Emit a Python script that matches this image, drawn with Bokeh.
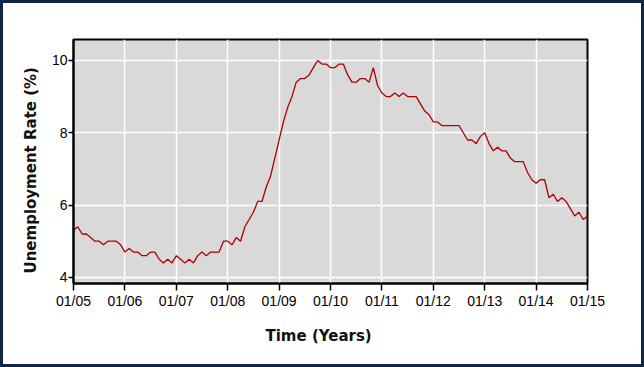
from bokeh.plotting import figure
from bokeh.models import FixedTicker, Title, InlineStyleSheet
from bokeh.embed import file_html
from bokeh.resources import INLINE

# Monthly US unemployment rate (%), Jan 2005 - Jan 2015
rate_2005 = [5.3, 5.4, 5.2, 5.2, 5.1, 5.0, 5.0, 4.9, 5.0, 5.0, 5.0, 4.9]
rate_2006 = [4.7, 4.8, 4.7, 4.7, 4.6, 4.6, 4.7, 4.7, 4.5, 4.4, 4.5, 4.4]
rate_2007 = [4.6, 4.5, 4.4, 4.5, 4.4, 4.6, 4.7, 4.6, 4.7, 4.7, 4.7, 5.0]
rate_2008 = [5.0, 4.9, 5.1, 5.0, 5.4, 5.6, 5.8, 6.1, 6.1, 6.5, 6.8, 7.3]
rate_2009 = [7.8, 8.3, 8.7, 9.0, 9.4, 9.5, 9.5, 9.6, 9.8, 10.0, 9.9, 9.9]
rate_2010 = [9.8, 9.8, 9.9, 9.9, 9.6, 9.4, 9.4, 9.5, 9.5, 9.4, 9.8, 9.3]
rate_2011 = [9.1, 9.0, 9.0, 9.1, 9.0, 9.1, 9.0, 9.0, 9.0, 8.8, 8.6, 8.5]
rate_2012 = [8.3, 8.3, 8.2, 8.2, 8.2, 8.2, 8.2, 8.0, 7.8, 7.8, 7.7, 7.9]
rate_2013 = [8.0, 7.7, 7.5, 7.6, 7.5, 7.5, 7.3, 7.2, 7.2, 7.2, 6.9, 6.7]
rate_2014 = [6.6, 6.7, 6.7, 6.2, 6.3, 6.1, 6.2, 6.1, 5.9, 5.7, 5.8, 5.6]
rate_2015 = [5.7]

years = list(range(2005, 2016))
year_tick_labels = ["01/05", "01/06", "01/07", "01/08", "01/09", "01/10",
                    "01/11", "01/12", "01/13", "01/14", "01/15"]
y_ticks = [4, 6, 8, 10]

series = [rate_2005, rate_2006, rate_2007, rate_2008, rate_2009, rate_2010,
          rate_2011, rate_2012, rate_2013, rate_2014, rate_2015]
xs, ys = [], []
for yr, vals in zip(years, series):
    for m, v in enumerate(vals):
        xs.append(yr + m / 12.0)
        ys.append(v)

p = figure(width=644, height=367, x_range=(2005, 2015), y_range=(3.83, 10.58),
           output_backend="svg", toolbar_location=None,
           min_border_left=73, min_border_right=57, min_border_top=39,
           min_border_bottom=84,
           background_fill_color="#d9d9d9", border_fill_color="white",
           outline_line_color="black", outline_line_width=2)
frame_css = InlineStyleSheet(css="""
:host { position: relative; }
:host::after {
  content: "";
  position: absolute;
  left: 0; top: 0; right: 0; bottom: 0;
  border: 3px solid #0e2545;
  box-sizing: border-box;
  pointer-events: none;
  z-index: 1000;
}
""")
p.stylesheets = [frame_css]

p.line(xs, ys, line_color="#b00000", line_width=1.3)

p.xaxis.ticker = FixedTicker(ticks=years)
p.xaxis.major_label_overrides = {yr: lab for yr, lab in zip(years, year_tick_labels)}
p.yaxis.ticker = FixedTicker(ticks=y_ticks)

for ax in (p.xaxis, p.yaxis):
    ax.axis_line_color = "black"
    ax.axis_line_width = 2
    ax.major_tick_line_color = "black"
    ax.major_tick_line_width = 1.5
    ax.major_tick_in = 0
    ax.minor_tick_line_color = None
    ax.major_label_text_font = "Liberation Sans"
    ax.major_label_text_font_size = "14px"
    ax.major_label_text_color = "black"
p.xaxis.major_tick_out = 7
p.xaxis.major_label_standoff = 2
p.yaxis.major_tick_out = 5
p.yaxis.major_label_standoff = 1

p.xgrid.grid_line_color = "white"
p.ygrid.grid_line_color = "white"
p.xgrid.grid_line_width = 1.5
p.ygrid.grid_line_width = 1.5

ytitle = Title(text="Unemployment Rate (%)", align="left", offset=10,
               standoff=17, text_font="DejaVu Sans", text_font_style="bold",
               text_font_size="15px", text_color="#111111")
xtitle = Title(text="Time (Years)", align="left", offset=192,
               standoff=27, text_font="DejaVu Sans", text_font_style="bold",
               text_font_size="15px", text_color="#111111")
p.add_layout(ytitle, "left")
p.add_layout(xtitle, "below")

open("out.html", "w").write(file_html(p, INLINE))
